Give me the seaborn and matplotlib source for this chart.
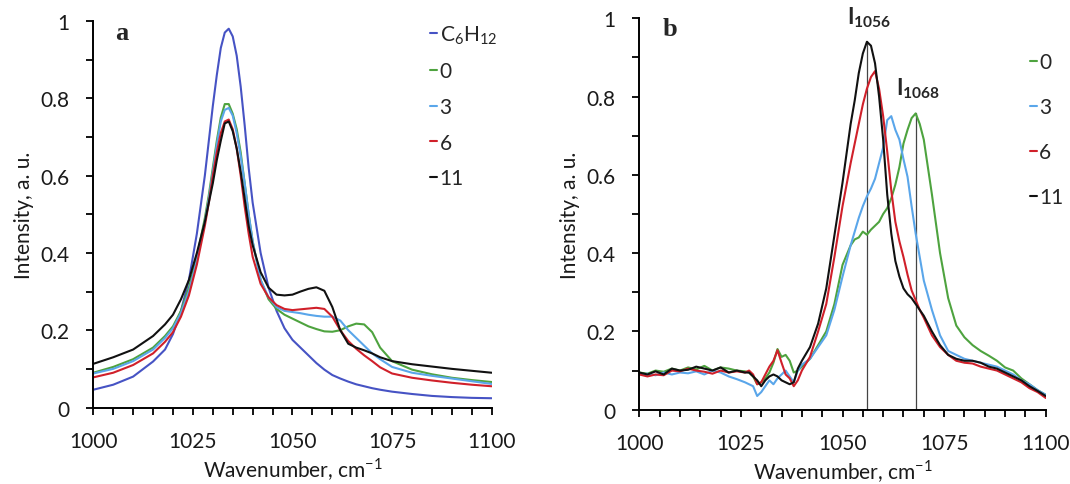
import matplotlib
matplotlib.use("Agg")
import matplotlib.pyplot as plt
import seaborn as sns
from matplotlib.ticker import MultipleLocator, FuncFormatter

# ---- panel a: full spectra ----
xa = [1000, 1005, 1010, 1015, 1018, 1020, 1022, 1024, 1026, 1028, 1029, 1030, 1031,
      1032, 1033, 1034, 1035, 1036, 1037, 1038, 1039, 1040, 1042, 1044, 1046, 1048,
      1050, 1052, 1054, 1056, 1058, 1060, 1062, 1064, 1066, 1068, 1070, 1072, 1075,
      1080, 1085, 1090, 1095, 1100]
a_c6h12 = [0.046, 0.059, 0.08, 0.119, 0.15, 0.19, 0.25, 0.33, 0.45, 0.6, 0.69, 0.78, 0.86,
           0.93, 0.97, 0.98, 0.96, 0.91, 0.83, 0.73, 0.62, 0.53, 0.40, 0.31, 0.25, 0.205,
           0.175, 0.155, 0.135, 0.115, 0.098, 0.084, 0.075, 0.067, 0.06, 0.055, 0.05, 0.046, 0.041,
           0.035, 0.03, 0.027, 0.025, 0.024]
a_0 = [0.09, 0.105, 0.125, 0.155, 0.185, 0.21, 0.25, 0.31, 0.39, 0.49, 0.55, 0.62, 0.69,
       0.75, 0.785, 0.785, 0.76, 0.72, 0.66, 0.58, 0.5, 0.43, 0.33, 0.28, 0.255, 0.24,
       0.23, 0.22, 0.21, 0.203, 0.197, 0.196, 0.2, 0.21, 0.217, 0.215, 0.195, 0.155, 0.12,
       0.098, 0.086, 0.077, 0.071, 0.066]
a_3 = [0.088, 0.1, 0.12, 0.15, 0.18, 0.205, 0.245, 0.3, 0.38, 0.48, 0.54, 0.61, 0.68,
       0.74, 0.77, 0.775, 0.755, 0.71, 0.65, 0.58, 0.5, 0.43, 0.33, 0.285, 0.26, 0.25,
       0.247, 0.244, 0.24, 0.237, 0.235, 0.235, 0.225, 0.2, 0.18, 0.16, 0.14, 0.125, 0.105,
       0.09, 0.082, 0.075, 0.068, 0.061]
a_6 = [0.078, 0.09, 0.11, 0.14, 0.17, 0.195, 0.235, 0.29, 0.37, 0.47, 0.53, 0.6, 0.66,
       0.71, 0.74, 0.745, 0.72, 0.67, 0.6, 0.52, 0.45, 0.39, 0.32, 0.285, 0.265, 0.255,
       0.252, 0.254, 0.256, 0.258, 0.255, 0.235, 0.2, 0.172, 0.152, 0.135, 0.12, 0.104, 0.088,
       0.077, 0.07, 0.064, 0.059, 0.055]
a_11 = [0.113, 0.13, 0.15, 0.185, 0.215, 0.24, 0.28, 0.33, 0.4, 0.48, 0.53, 0.58, 0.64,
        0.69, 0.735, 0.74, 0.715, 0.67, 0.61, 0.54, 0.47, 0.42, 0.35, 0.31, 0.292, 0.29,
        0.292, 0.3, 0.307, 0.311, 0.302, 0.26, 0.2, 0.165, 0.155, 0.148, 0.14, 0.13, 0.12,
        0.112, 0.106, 0.1, 0.095, 0.09]

# ---- panel b: difference spectra ----
xb = (list(range(1000, 1027, 2)) + list(range(1027, 1041)) + list(range(1042, 1053, 2))
      + list(range(1053, 1071)) + list(range(1072, 1101, 2)))
b_0 = [0.095, 0.092, 0.1, 0.097, 0.105, 0.1, 0.108, 0.103, 0.112, 0.1, 0.108, 0.105, 0.1, 0.098,
       0.095, 0.085, 0.065, 0.07, 0.08, 0.095, 0.12, 0.155, 0.135, 0.14, 0.125, 0.095, 0.1, 0.11,
       0.13, 0.165, 0.2, 0.27, 0.37, 0.42,
       0.435, 0.44, 0.455, 0.447, 0.46, 0.47, 0.48, 0.5, 0.515, 0.54, 0.575, 0.62, 0.68, 0.715,
       0.745, 0.757, 0.73, 0.69,
       0.55, 0.4, 0.285, 0.215, 0.185, 0.165, 0.15, 0.138, 0.125, 0.108, 0.1, 0.08, 0.065, 0.05, 0.038]
b_3 = [0.09, 0.092, 0.088, 0.095, 0.09, 0.095, 0.093, 0.098, 0.09, 0.1, 0.095, 0.085, 0.078, 0.07,
       0.065, 0.06, 0.035, 0.045, 0.06, 0.075, 0.065, 0.08, 0.09, 0.1, 0.085, 0.07, 0.1, 0.115,
       0.13, 0.16, 0.19, 0.255, 0.34, 0.42,
       0.455, 0.49, 0.52, 0.545, 0.565, 0.59, 0.63, 0.67, 0.74, 0.75, 0.715, 0.69, 0.64, 0.595,
       0.52, 0.45, 0.39, 0.33,
       0.255, 0.19, 0.15, 0.14, 0.13, 0.125, 0.12, 0.115, 0.11, 0.1, 0.09, 0.075, 0.065, 0.05, 0.038]
b_6 = [0.09, 0.085, 0.09, 0.088, 0.1, 0.098, 0.105, 0.1, 0.097, 0.092, 0.1, 0.095, 0.098, 0.095,
       0.1, 0.09, 0.065, 0.07, 0.09, 0.11, 0.125, 0.152, 0.12, 0.09, 0.08, 0.06, 0.075, 0.1,
       0.135, 0.2, 0.27, 0.39, 0.52, 0.63,
       0.68, 0.73, 0.78, 0.82, 0.85, 0.865, 0.82, 0.75, 0.66, 0.56, 0.48, 0.43, 0.39, 0.345,
       0.305, 0.28, 0.255, 0.235,
       0.19, 0.16, 0.14, 0.125, 0.12, 0.118, 0.11, 0.105, 0.1, 0.09, 0.08, 0.07, 0.055, 0.045, 0.03]
b_11 = [0.095, 0.09, 0.098, 0.09, 0.105, 0.1, 0.102, 0.11, 0.105, 0.1, 0.108, 0.095, 0.1, 0.095,
        0.095, 0.085, 0.075, 0.06, 0.075, 0.085, 0.09, 0.085, 0.075, 0.07, 0.065, 0.07, 0.105, 0.125,
        0.16, 0.22, 0.31, 0.445, 0.58, 0.73,
        0.79, 0.86, 0.91, 0.94, 0.93, 0.885, 0.8, 0.69, 0.55, 0.45, 0.38, 0.34, 0.31, 0.295,
        0.285, 0.27, 0.255, 0.24,
        0.2, 0.165, 0.14, 0.13, 0.125, 0.125, 0.12, 0.11, 0.105, 0.095, 0.085, 0.075, 0.06, 0.048, 0.035]

labels_a = ["C$_6$H$_{12}$", "0", "3", "6", "11"]
labels_b = ["0", "3", "6", "11"]
colors = {"C$_6$H$_{12}$": "#4653c4", "0": "#4ea33f", "3": "#5aa6ea", "6": "#d0202a", "11": "#111111"}
peaks = [1056, 1068]
peak_heights = [0.943, 0.757]
peak_labels = [r"$\mathbf{I_{1056}}$", r"$\mathbf{I_{1068}}$"]
peak_label_pos = [(1056.5, 0.972), (1068.6, 0.79)]

sns.set_style("ticks")
plt.rcParams["font.family"] = ["Lato", "DejaVu Sans"]
plt.rcParams["mathtext.fontset"] = "custom"
plt.rcParams["mathtext.rm"] = "Lato"
plt.rcParams["mathtext.bf"] = "Lato:bold"

FS = 15


def style_axis(ax):
    ax.set_xlim(1000, 1100)
    ax.set_ylim(0, 1)
    ax.xaxis.set_major_locator(MultipleLocator(25))
    ax.xaxis.set_minor_locator(MultipleLocator(5))
    ax.yaxis.set_major_locator(MultipleLocator(0.2))
    ax.yaxis.set_minor_locator(MultipleLocator(0.1))
    ax.yaxis.set_major_formatter(FuncFormatter(lambda v, p: f"{v:g}"))
    ax.tick_params(which="both", direction="out", length=5, width=1.3, color="black",
                   labelsize=FS, labelcolor="#1a1a1a")
    ax.tick_params(axis="x", which="major", pad=12)
    ax.tick_params(axis="y", which="major", pad=12)
    for s in ["left", "bottom"]:
        ax.spines[s].set_linewidth(1.4)
        ax.spines[s].set_color("black")
    sns.despine(ax=ax)
    ax.set_xlabel("Wavenumber, cm$^{-1}$", fontsize=FS, labelpad=3, color="#1a1a1a")
    ax.set_ylabel("Intensity, a. u.", fontsize=FS, labelpad=5, color="#1a1a1a")


fig = plt.figure(figsize=(10.7, 4.85), dpi=100)
ax1 = fig.add_axes([0.0872, 0.1577, 0.3723, 0.797])
ax2 = fig.add_axes([0.5975, 0.1532, 0.3798, 0.807])

series_a = [a_c6h12, a_0, a_3, a_6, a_11]
for lab, y in zip(labels_a, series_a):
    sns.lineplot(x=xa, y=y, ax=ax1, color=colors[lab], lw=1.5, label=lab,
                 estimator=None, sort=False)

series_b = [b_0, b_3, b_6, b_11]
for lab, y in zip(labels_b, series_b):
    sns.lineplot(x=xb, y=y, ax=ax2, color=colors[lab], lw=1.5, label=lab,
                 estimator=None, sort=False)

for px, ph, pl, (tx, ty) in zip(peaks, peak_heights, peak_labels, peak_label_pos):
    ax2.plot([px, px], [0, ph], color="#444444", lw=0.9, zorder=1)
    ax2.text(tx, ty, pl, ha="center", va="bottom", fontsize=16)

for ax in (ax1, ax2):
    style_axis(ax)

ax1.text(1007.1, 0.971, "a", fontsize=19, fontweight="bold", family="Liberation Serif",
         ha="center", va="center")
ax2.text(1007.6, 0.973, "b", fontsize=19, fontweight="bold", family="Liberation Serif",
         ha="center", va="center")

leg_kw = dict(frameon=False, handlelength=0.35, handletextpad=0.1, fontsize=FS,
              borderaxespad=0, borderpad=0)
ax1.legend(loc="upper left", bbox_to_anchor=(0.402, 0.95), bbox_transform=fig.transFigure,
           labelspacing=0.75, **leg_kw)
ax2.legend(loc="upper left", bbox_to_anchor=(0.9626, 0.89), bbox_transform=fig.transFigure,
           labelspacing=1.2, **leg_kw)

fig.savefig("out.png", dpi=100)
